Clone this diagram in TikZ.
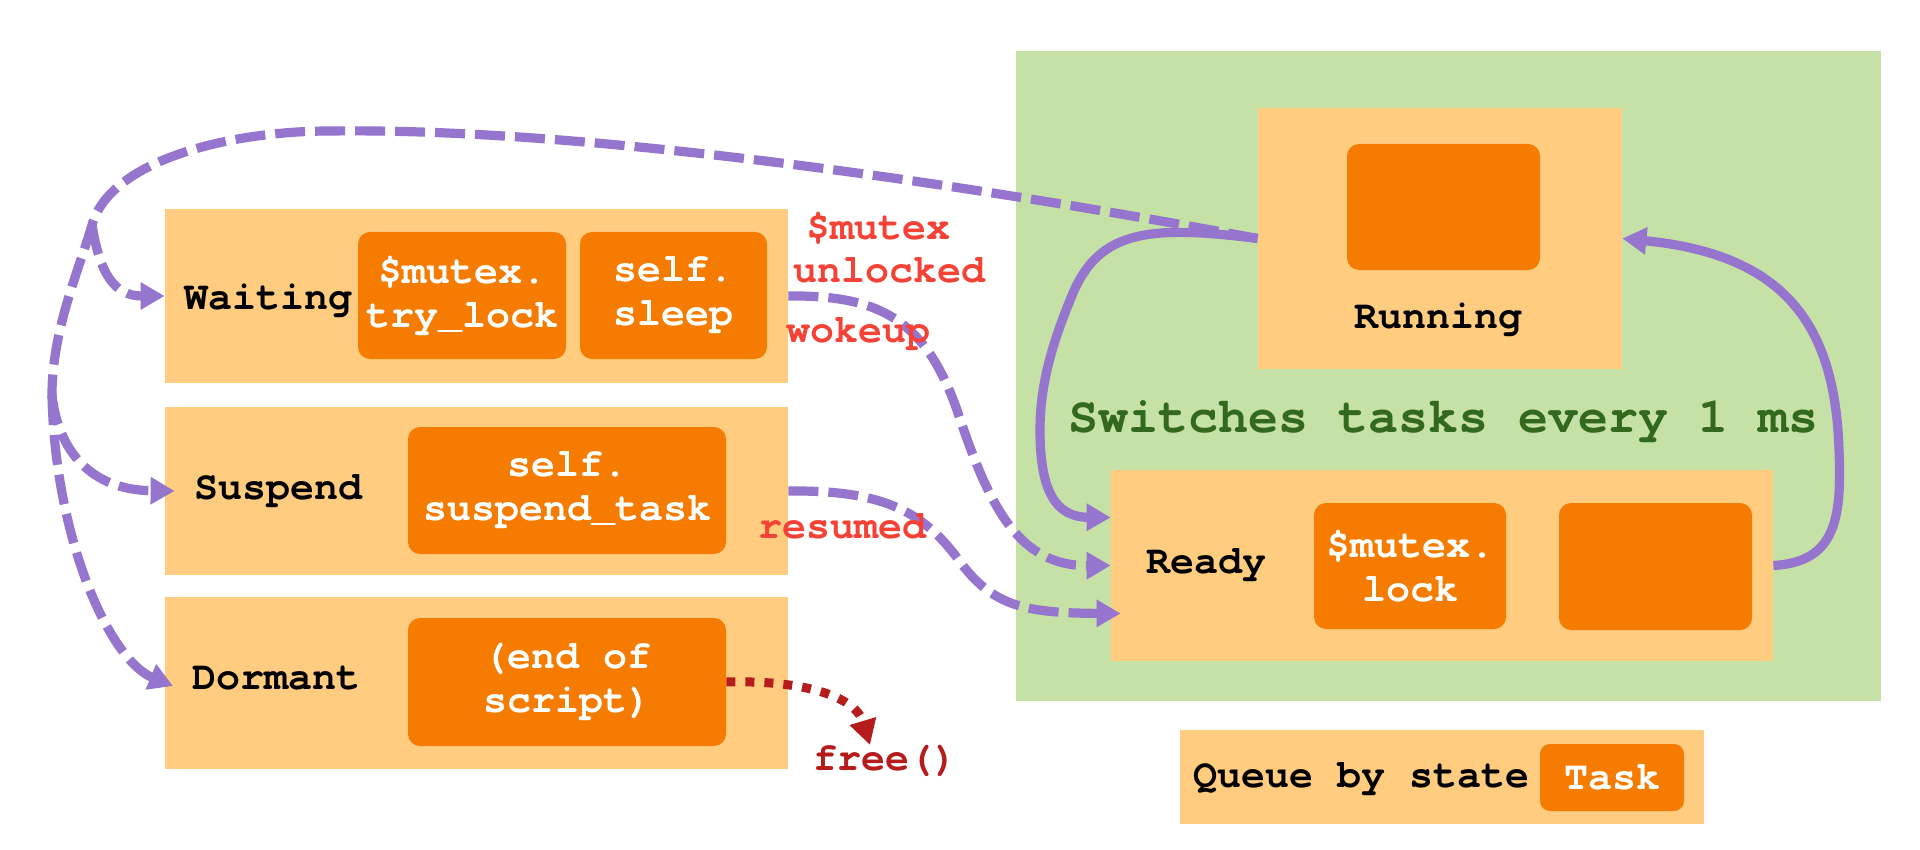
\documentclass[tikz,border=0pt]{standalone}
\usepackage{fontspec}
\setmonofont{TeX Gyre Cursor}
\usetikzlibrary{arrows.meta}
\definecolor{qfill}{HTML}{FFCC80}
\definecolor{tfill}{HTML}{F57C00}
\definecolor{gfill}{HTML}{C5E1A5}
\definecolor{purp}{HTML}{9575CD}
\definecolor{lblred}{HTML}{F44336}
\definecolor{freered}{HTML}{B71C1C}
\definecolor{gtext}{HTML}{33691E}
\begin{document}
\begin{tikzpicture}[x=0.5pt,y=-0.5pt,
  font=\ttfamily\bfseries\fontsize{20pt}{22pt}\selectfont,
  qbox/.style={fill=qfill, draw=none, inner sep=0pt},
  tbox/.style={fill=tfill, rounded corners=6pt, text=white, align=center, inner sep=0pt},
  lbl/.style={inner sep=0pt, anchor=base west},
  evt/.style={inner sep=0pt, anchor=base west, text=lblred},
  dline/.style={draw=purp, line width=4.6pt, dash pattern=on 15pt off 5pt},
  flow/.style={draw=purp, line width=4.6pt, -{Triangle[length=12pt,width=13pt]}},
  dflow/.style={flow, dash pattern=on 15pt off 5pt},
  freeflow/.style={draw=freered, line width=4.5pt, dash pattern=on 4.5pt off 5pt, -{Triangle[length=12.5pt,width=13pt]}},
]
\fill[white] (0,0) rectangle (1920,850);
\useasboundingbox (0,0) rectangle (1920,850);

% scheduler area
\node[fill=gfill, inner sep=0pt, minimum width=432.5pt, minimum height=325pt] (sched) at (1448.5,376) {};

% left queues
\node[qbox, minimum width=311.5pt, minimum height=87pt] (waitQ) at (476.5,296) {};
\node[qbox, minimum width=311.5pt, minimum height=84pt] (suspQ) at (476.5,491) {};
\node[qbox, minimum width=311.5pt, minimum height=86pt] (dormQ) at (476.5,683) {};
\node[tbox, minimum width=104pt, minimum height=63.5pt] (tryLock) at (462,295.5) {\$mutex.\\try\_lock};
\node[tbox, minimum width=93.5pt, minimum height=63.5pt] (sleepT) at (673.5,295.5) {self.\\sleep};
\node[tbox, minimum width=159pt, minimum height=63.5pt] (suspTask) at (567,490.5) {self.\\suspend\_task};
\node[tbox, minimum width=159pt, minimum height=64pt] (endScript) at (567,682) {(end of\\script)};

% right queues
\node[qbox, minimum width=182pt, minimum height=130.5pt] (runQ) at (1440,238.5) {};
\node[tbox, minimum width=96.5pt, minimum height=63pt] (runTask) at (1443.5,207) {};
\node[qbox, minimum width=331pt, minimum height=95.5pt] (readyQ) at (1442,565.5) {};
\node[tbox, minimum width=96pt, minimum height=63pt] (lockTask) at (1410,566) {\$mutex.\\lock};
\node[tbox, minimum width=96.5pt, minimum height=63.5pt] (readyTask) at (1655.5,566.5) {};

% legend
\node[qbox, minimum width=262pt, minimum height=47pt] (legendQ) at (1442,777) {};
\node[tbox, rounded corners=5pt, minimum width=72pt, minimum height=33.5pt] (legendTask) at (1612,777.5) {Task};

% state names
\node[lbl] (tWait) at (184,309) {Waiting};
\node[lbl] (tSusp) at (194,499) {Suspend};
\node[lbl] (tDorm) at (192,689) {Dormant};
\node[inner sep=0pt, anchor=base] (tRun) at (1438,328) {Running};
\node[lbl] (tReady) at (1146,573) {Ready};
\node[lbl] (tQueue) at (1193,787) {Queue by state};
\node[inner sep=0pt, anchor=base, text=gtext, font=\ttfamily\bfseries\fontsize{25pt}{28pt}\selectfont] (tSwitch) at (1443,432) {Switches tasks every 1 ms};

% connectors
\coordinate (J1) at (92,225);
\coordinate (J2) at (52,395);
\coordinate (dormTip) at (173,686);
\coordinate (freeTip) at (870,745);

\draw[dline] (runQ.west) .. controls (900,172) and (560,128) .. (330,131)
  .. controls (230,131) and (110,160) .. (J1)
  .. controls (79,270) and (52,330) .. (J2);
\draw[dflow] (J1) .. controls (100,275) and (115,296) .. (waitQ.west);
\draw[dflow] (J2) .. controls (58,450) and (90,490) .. ([xshift=5pt]suspQ.west);
\draw[dflow] (J2) .. controls (55,540) and (110,660) .. (dormTip);

\draw[dflow] (waitQ.east) .. controls (880,295) and (925,320) .. (957,410)
  .. controls (990,510) and (1020,566) .. (readyQ.west);
\draw[dflow] (suspQ.east) .. controls (880,490) and (920,510) .. (955,555)
  .. controls (990,605) and (1020,613) .. ([xshift=5pt,yshift=-24pt]readyQ.west);

\draw[flow] (runQ.west) .. controls (1150,225) and (1100,230) .. (1073,293)
  .. controls (1052,343) and (1040,385) .. (1040,430)
  .. controls (1040,490) and (1055,517) .. ([yshift=24pt]readyQ.west);
\draw[flow] (readyQ.east) .. controls (1835,562) and (1842,520) .. (1839,450)
  .. controls (1835,330) and (1790,255) .. (runQ.east);

\draw[freeflow] (endScript.east) .. controls (800,680) and (855,695) .. (freeTip);

% event labels
\node[evt] (eMutex) at (806,240) {\$mutex};
\node[evt] (eUnl) at (793,282) {unlocked};
\node[evt] (eWoke) at (786,342) {wokeup};
\node[evt] (eRes) at (758,538) {resumed};
\node[evt, text=freered] (eFree) at (813,770) {free()};
\end{tikzpicture}
\end{document}
